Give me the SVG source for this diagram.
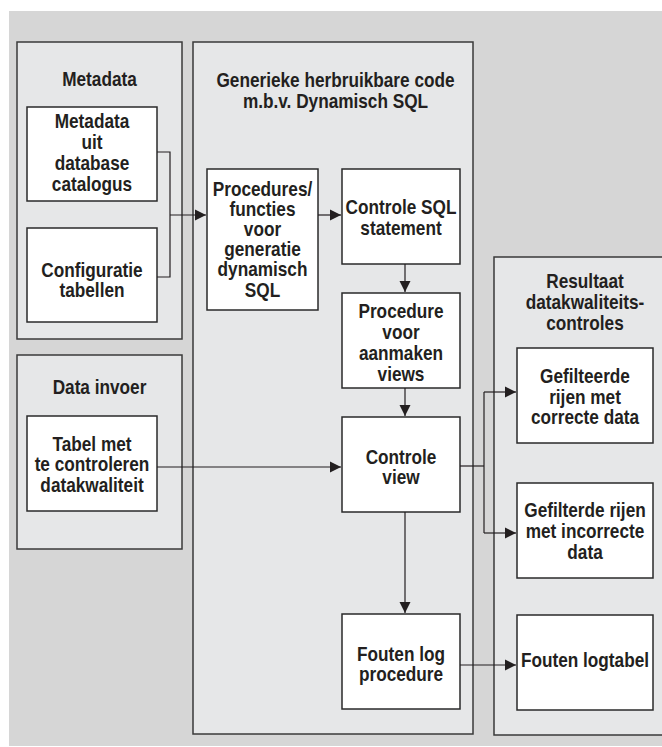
<svg xmlns="http://www.w3.org/2000/svg" width="662" height="747" viewBox="0 0 662 747">
<defs>
<style>
.bg{fill:#d6d6d6}
.panel{fill:#e6e7e8;stroke:#3a3a3a;stroke-width:1.5}
.box{fill:#ffffff;stroke:#2a2a2a;stroke-width:1.5}
text{font-family:"Liberation Sans",Arial,sans-serif;font-weight:bold;font-size:21px;fill:#231f20;text-anchor:middle}
.c{fill:none;stroke:#231f20;stroke-width:1.2}
</style>
<marker id="ah" viewBox="0 0 10 10" refX="10" refY="5" markerWidth="11" markerHeight="12" markerUnits="userSpaceOnUse" orient="auto">
<path d="M0,0 L10,5 L0,10 z" fill="#231f20"/>
</marker>
</defs>
<rect class="bg" x="9" y="11" width="653" height="735"/>
<g id="panel-metadata">
<rect class="panel" x="17" y="42" width="165" height="297"/>
<g transform="translate(99.5 0) scale(0.82 1)"><text x="0" y="86">Metadata</text></g>
</g>
<g id="panel-data-invoer">
<rect class="panel" x="17" y="355" width="165" height="194"/>
<g transform="translate(99.5 0) scale(0.82 1)"><text x="0" y="394">Data invoer</text></g>
</g>
<g id="panel-generiek">
<rect class="panel" x="193" y="42" width="280" height="692"/>
<g transform="translate(335.5 0) scale(0.82 1)">
<text x="0" y="87">Generieke herbruikbare code</text>
<text x="0" y="108">m.b.v. Dynamisch SQL</text>
</g>
</g>
<g id="panel-resultaat">
<path class="panel" d="M664,257 L494,257 L494,735 L664,735"/>
<g transform="translate(585 0) scale(0.82 1)">
<text x="0" y="288">Resultaat</text>
<text x="0" y="309">datakwaliteits-</text>
<text x="0" y="330">controles</text>
</g>
</g>
<g id="node-metadata-catalogus">
<rect class="box" x="27" y="107" width="130" height="94"/>
<g transform="translate(92 0) scale(0.82 1)">
<text x="0" y="128">Metadata</text>
<text x="0" y="149">uit</text>
<text x="0" y="170">database</text>
<text x="0" y="191">catalogus</text>
</g>
</g>
<g id="node-configuratie">
<rect class="box" x="27" y="228" width="130" height="94"/>
<g transform="translate(92 0) scale(0.82 1)">
<text x="0" y="277">Configuratie</text>
<text x="0" y="297">tabellen</text>
</g>
</g>
<g id="node-tabel">
<rect class="box" x="27" y="416" width="130" height="95"/>
<g transform="translate(92 0) scale(0.82 1)">
<text x="0" y="451">Tabel met</text>
<text x="0" y="471">te controleren</text>
<text x="0" y="492">datakwaliteit</text>
</g>
</g>
<g id="node-procedures">
<rect class="box" x="207" y="169" width="111" height="141"/>
<g transform="translate(262.5 0) scale(0.82 1)">
<text x="0" y="196">Procedures/</text>
<text x="0" y="216">functies</text>
<text x="0" y="236">voor</text>
<text x="0" y="256">generatie</text>
<text x="0" y="276">dynamisch</text>
<text x="0" y="297">SQL</text>
</g>
</g>
<g id="node-controle-sql">
<rect class="box" x="342" y="169" width="118" height="95"/>
<g transform="translate(401 0) scale(0.82 1)">
<text x="0" y="214">Controle SQL</text>
<text x="0" y="235">statement</text>
</g>
</g>
<g id="node-procedure-views">
<rect class="box" x="342" y="293" width="118" height="95"/>
<g transform="translate(401 0) scale(0.82 1)">
<text x="0" y="318">Procedure</text>
<text x="0" y="339">voor</text>
<text x="0" y="360">aanmaken</text>
<text x="0" y="381">views</text>
</g>
</g>
<g id="node-controle-view">
<rect class="box" x="342" y="417" width="118" height="95"/>
<g transform="translate(401 0) scale(0.82 1)">
<text x="0" y="464">Controle</text>
<text x="0" y="484">view</text>
</g>
</g>
<g id="node-fouten-procedure">
<rect class="box" x="342" y="614" width="118" height="95"/>
<g transform="translate(401 0) scale(0.82 1)">
<text x="0" y="661">Fouten log</text>
<text x="0" y="681">procedure</text>
</g>
</g>
<g id="node-correct">
<rect class="box" x="517" y="348" width="136" height="95"/>
<g transform="translate(585 0) scale(0.82 1)">
<text x="0" y="383">Gefilteerde</text>
<text x="0" y="404">rijen met</text>
<text x="0" y="424">correcte data</text>
</g>
</g>
<g id="node-incorrect">
<rect class="box" x="517" y="483" width="136" height="95"/>
<g transform="translate(585 0) scale(0.82 1)">
<text x="0" y="517">Gefilterde rijen</text>
<text x="0" y="538">met incorrecte</text>
<text x="0" y="559">data</text>
</g>
</g>
<g id="node-fouten-logtabel">
<rect class="box" x="517" y="615" width="136" height="95"/>
<g transform="translate(585 0) scale(0.82 1)">
<text x="0" y="667">Fouten logtabel</text>
</g>
</g>
<g id="connectors">
<path class="c" d="M157,152 H170 V277 H157"/>
<path class="c" d="M170,215 H206" marker-end="url(#ah)"/>
<path class="c" d="M318,215 H341" marker-end="url(#ah)"/>
<path class="c" d="M405,264 V292" marker-end="url(#ah)"/>
<path class="c" d="M405,388 V416" marker-end="url(#ah)"/>
<path class="c" d="M405,512 V613" marker-end="url(#ah)"/>
<path class="c" d="M157,467 H341" marker-end="url(#ah)"/>
<path class="c" d="M460,466 H484"/>
<path class="c" d="M484,392 V533"/>
<path class="c" d="M484,392 H516" marker-end="url(#ah)"/>
<path class="c" d="M484,533 H516" marker-end="url(#ah)"/>
<path class="c" d="M460,665 H516" marker-end="url(#ah)"/>
</g>
</svg>
